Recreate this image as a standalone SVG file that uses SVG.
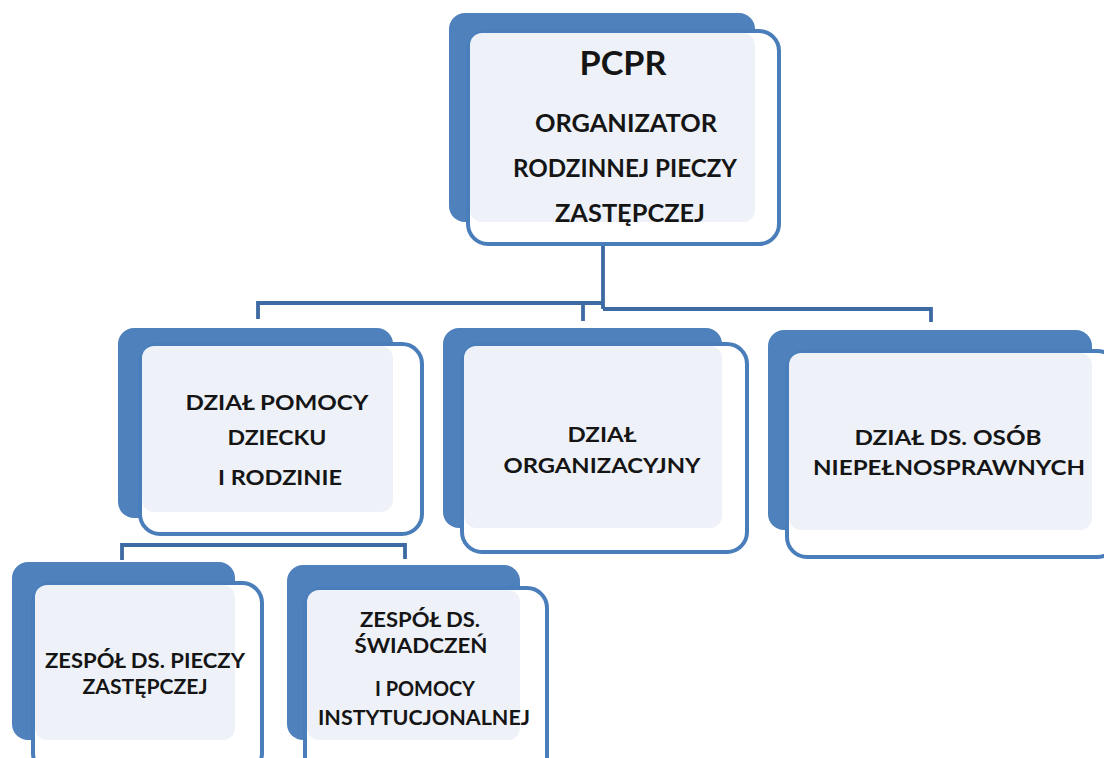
<svg xmlns="http://www.w3.org/2000/svg" width="1104" height="758" viewBox="0 0 1104 758">
<style>
.back{fill:#4f81bd}
.front{fill:#ffffff;stroke:#4a7ebb;stroke-width:4}
.inner{fill:#eef2f8}
.t{font-family:Lato,"Open Sans","Liberation Sans",sans-serif;font-weight:700;fill:#151515;text-anchor:middle}
.conn{fill:none;stroke:#3d6aa3;stroke-width:3.8}
.faint{fill:none;stroke:#c9d4e2;stroke-width:2}
</style>
<rect width="1104" height="758" fill="#ffffff"/>
<g id="connectors">
<path class="conn" d="M603 245 V309 M258 319 V303 H603 M583 321 V303 M603 309 H931 V322"/>
<path class="conn" d="M122 560 V545 H405 V559"/>
<path class="faint" d="M603 224 V245 M258 514 V534"/>
</g>
<g id="pcpr">
<rect class="back" x="449" y="13" width="306" height="209" rx="16"/>
<rect class="front" x="468" y="31" width="311" height="213" rx="20"/>
<rect class="inner" x="470" y="33" width="285" height="189" rx="12"/>
<text class="t" x="623" y="75" font-size="32" textLength="87" lengthAdjust="spacingAndGlyphs">PCPR</text>
<text class="t" x="626" y="132" font-size="24" textLength="182" lengthAdjust="spacingAndGlyphs">ORGANIZATOR</text>
<text class="t" x="625" y="177" font-size="24" textLength="224" lengthAdjust="spacingAndGlyphs">RODZINNEJ PIECZY</text>
<text class="t" x="630" y="222" font-size="24" textLength="150" lengthAdjust="spacingAndGlyphs">ZASTĘPCZEJ</text>
</g>
<g id="dzial-pomocy">
<rect class="back" x="118" y="328" width="275" height="190" rx="16"/>
<rect class="front" x="140" y="344" width="282" height="190" rx="20"/>
<rect class="inner" x="142" y="346" width="251" height="166" rx="12"/>
<text class="t" x="277" y="410" font-size="21" textLength="183" lengthAdjust="spacingAndGlyphs">DZIAŁ POMOCY</text>
<text class="t" x="277" y="445" font-size="21" textLength="99" lengthAdjust="spacingAndGlyphs">DZIECKU</text>
<text class="t" x="280" y="485" font-size="21" textLength="124" lengthAdjust="spacingAndGlyphs">I RODZINIE</text>
</g>
<g id="dzial-organizacyjny">
<rect class="back" x="443" y="328" width="279" height="200" rx="16"/>
<rect class="front" x="462" y="344" width="285" height="208" rx="20"/>
<rect class="inner" x="464" y="346" width="258" height="182" rx="12"/>
<text class="t" x="602" y="442" font-size="21" textLength="69" lengthAdjust="spacingAndGlyphs">DZIAŁ</text>
<text class="t" x="602" y="473" font-size="21" textLength="197" lengthAdjust="spacingAndGlyphs">ORGANIZACYJNY</text>
</g>
<g id="dzial-niepelnosprawnych">
<rect class="back" x="768" y="330" width="324" height="200" rx="16"/>
<rect class="front" x="787" y="351" width="330" height="206" rx="20"/>
<rect class="inner" x="789" y="353" width="303" height="177" rx="12"/>
<text class="t" x="948" y="445" font-size="21" textLength="187" lengthAdjust="spacingAndGlyphs">DZIAŁ DS. OSÓB</text>
<text class="t" x="949" y="475" font-size="21" textLength="272" lengthAdjust="spacingAndGlyphs">NIEPEŁNOSPRAWNYCH</text>
</g>
<g id="zespol-pieczy">
<rect class="back" x="12" y="562" width="223" height="178" rx="16"/>
<rect class="front" x="33" y="583" width="229" height="190" rx="20"/>
<rect class="inner" x="35" y="585" width="200" height="155" rx="12"/>
<text class="t" x="145" y="668" font-size="20" textLength="200" lengthAdjust="spacingAndGlyphs">ZESPÓŁ DS. PIECZY</text>
<text class="t" x="145" y="694" font-size="20" textLength="125" lengthAdjust="spacingAndGlyphs">ZASTĘPCZEJ</text>
</g>
<g id="zespol-swiadczen">
<rect class="back" x="287" y="565" width="233" height="175" rx="16"/>
<rect class="front" x="305" y="588" width="242" height="190" rx="20"/>
<rect class="inner" x="307" y="590" width="213" height="150" rx="12"/>
<text class="t" x="420" y="627" font-size="20" textLength="120" lengthAdjust="spacingAndGlyphs">ZESPÓŁ DS.</text>
<text class="t" x="421" y="653" font-size="20" textLength="133" lengthAdjust="spacingAndGlyphs">ŚWIADCZEŃ</text>
<text class="t" x="425" y="696" font-size="20" textLength="100" lengthAdjust="spacingAndGlyphs">I POMOCY</text>
<text class="t" x="424" y="725" font-size="20" textLength="212" lengthAdjust="spacingAndGlyphs">INSTYTUCJONALNEJ</text>
</g>
</svg>
